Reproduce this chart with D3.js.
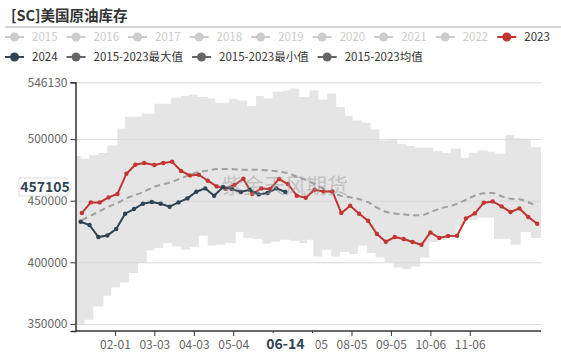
<!DOCTYPE html>
<html>
<head>
<meta charset="utf-8">
<script src="https://cdn.jsdelivr.net/npm/d3@7/dist/d3.min.js"></script>
<style>
  body { margin: 0; background: #fff; }
  svg text { font-family: "Microsoft YaHei", "Noto Sans CJK SC", sans-serif; }
</style>
</head>
<body>
<div id="chart"></div>
<script>
var width = 561, height = 352
var margin = {top: 82.3, right: 20, bottom: 21, left: 75.5}

// legend entries
var hiddenYears = ['2015', '2016', '2017', '2018', '2019', '2020', '2021', '2022']
var row2Names = ['2024', '2015-2023最大值', '2015-2023最小值', '2015-2023均值']

// x tick labels (MM-DD, category axis of one leap year)
var tickLabels = ['02-01', '03-03', '04-03', '05-04', '06-04', '07-05', '08-05', '09-05', '10-06', '11-06']
var yTicks = [350000, 400000, 450000, 500000, 546130]

// weekly stocks, thousand barrels
var start2023 = '2023-01-06'
var values2023 = [440010, 448620, 448620, 452680, 455440, 471920, 479230, 480610, 478990, 480610,
  481670, 474120, 470540, 471110, 466240, 461610, 459740, 462750, 467860, 455440,
  459990, 459500, 467620, 463560, 454060, 452440, 458930, 457550, 457550, 440010,
  445940, 439440, 433760, 422960, 416710, 420520, 418900, 416460, 414270, 424260,
  419710, 421340, 421580, 435630, 439690, 448380, 449430, 445370, 440820, 443750,
  436760, 431320]

var start2024 = '2024-01-05'
var values2024 = [432950, 430270, 420520, 421820, 427020, 439440, 443260, 447560, 448940, 447560,
  445130, 448620, 451870, 457310, 459990, 454060, 461120, 459500, 457060, 458930,
  455120, 456250, 459990, 457105]

var avgValues = [434170, 437820, 441470, 445130, 448210, 451950, 454630, 457470, 461370, 463400,
  465430, 468190, 471110, 473300, 474520, 475740, 475740, 475500, 475170, 475170,
  474930, 474520, 473710, 472330, 469490, 467050, 463400, 459740, 456500, 453940,
  452840, 451220, 448780, 444320, 441070, 439610, 439040, 438230, 438230, 440660,
  443500, 445290, 447400, 450810, 454060, 456010, 456250, 453650, 451620, 451220,
  448780, 445530]

// 2015-2023 max / min, step changes (day index in year, value)
var maxDays = [0, 4, 11, 18, 25, 33, 39, 52, 62, 75, 83, 89, 96, 104, 110, 121, 127, 135, 142, 148,
  155, 163, 169, 176, 184, 191, 198, 205, 212, 218, 225, 232, 239, 246, 253, 260, 267, 281, 288, 295,
  303, 309, 316, 324, 330, 338, 345, 351, 358]
var maxValues = [486300, 484100, 487110, 488730, 494900, 508710, 518210, 520640, 528760, 533640,
  535020, 536320, 534210, 533070, 529580, 532820, 531440, 526900, 535020, 533070,
  538510, 539560, 541190, 534210, 539560, 532260, 537130, 526090, 518780, 515200,
  513340, 507900, 498960, 500340, 496280, 494420, 493040, 490360, 488980, 492470,
  484920, 488980, 490840, 489790, 488160, 503350, 500590, 500340, 493600]

var minDays = [0, 7, 14, 22, 28, 35, 42, 49, 56, 62, 69, 76, 83, 90, 97, 104, 111, 118, 126, 132,
  140, 147, 154, 161, 169, 176, 182, 187, 194, 201, 208, 215, 222, 229, 236, 243, 250, 257, 264, 271,
  278, 285, 292, 299, 305, 316, 329, 342, 350, 358]
var minValues = [349310, 353370, 364170, 372860, 379600, 383660, 391290, 399410, 409640, 411590,
  415650, 412900, 410210, 412410, 421580, 413700, 414270, 415650, 424580, 419710,
  418900, 415080, 416950, 418330, 417520, 415650, 418330, 404770, 410210, 404770,
  408340, 406720, 413700, 407530, 403960, 400220, 395840, 394540, 396650, 403960,
  416460, 418330, 421010, 429130, 434570, 436200, 419140, 414270, 424580, 419710]

var pointerDate = '06-14'
var pointerValue = 457105

var parseDate = d3.timeParse('%Y-%m-%d')
var fmtMD = d3.timeFormat('%m-%d')
var yearStart = new Date(2024, 0, 1)

function dayIndex(md) {
  var p = md.split('-')
  return d3.timeDay.count(yearStart, new Date(2024, +p[0] - 1, +p[1]))
}

function weekly(start, vals) {
  var s = parseDate(start)
  return vals.map((v, i) => ({day: dayIndex(fmtMD(d3.timeDay.offset(s, i * 7))), v: v}))
}

function steps(days, vals) {
  var arr = days.map((d, i) => ({day: d, v: vals[i]}))
  arr.push({day: 366, v: vals[vals.length - 1]})
  return arr
}

var data2023 = weekly(start2023, values2023)
var data2024 = weekly(start2024, values2024)
var dataAvg = weekly(start2023, avgValues)
var dataMax = steps(maxDays, maxValues)
var dataMin = steps(minDays, minValues)

var svg = d3.select('#chart')
  .append('svg')
  .attr('width', width)
  .attr('height', height)

var xScale = d3.scaleLinear()
  .domain([0, 366])
  .range([margin.left, width - margin.right])

var yScale = d3.scaleLinear()
  .domain([344240, 546130])
  .range([height - margin.bottom, margin.top])

var yBottom = height - margin.bottom

// band: gray under max, white under min
var bandArea = d3.area()
  .curve(d3.curveStepAfter)
  .x(d => xScale(d.day))
  .y0(yBottom)
  .y1(d => yScale(d.v))

svg.append('path')
  .attr('d', bandArea(dataMax))
  .attr('fill', '#e5e5e5')

svg.append('path')
  .attr('d', bandArea(dataMin))
  .attr('fill', '#ffffff')

// Y grid
svg.append('g')
  .attr('class', 'grid')
  .attr('transform', `translate(${margin.left},0)`)
  .call(d3.axisLeft(yScale).tickValues(yTicks).tickSize(-(width - margin.right - margin.left)).tickFormat(''))
  .call(g => g.select('.domain').remove())
  .selectAll('line')
  .attr('stroke', '#d8d8d8')

// Y axis
svg.append('g')
  .attr('class', 'y-axis')
  .attr('transform', `translate(${margin.left},0)`)
  .call(d3.axisLeft(yScale).tickValues(yTicks).tickSize(5).tickPadding(3).tickFormat(d => d))
  .call(g => g.select('.domain').attr('stroke', '#333').attr('stroke-width', 1.5))
  .call(g => g.selectAll('.tick line').attr('stroke', '#333'))
  .selectAll('text')
  .style('font-size', '12px')
  .attr('fill', '#666')

// X axis (the label under the pointer is hidden, as in the chart)
var xAxis = d3.axisBottom(xScale)
  .tickValues(tickLabels.map(dayIndex))
  .tickSize(5)
  .tickPadding(4)
  .tickFormat((d, i) => tickLabels[i])

svg.append('g')
  .attr('class', 'x-axis')
  .attr('transform', `translate(0,${yBottom})`)
  .call(xAxis)
  .call(g => g.select('.domain').attr('d', `M${margin.left},0H${width - margin.right}`).attr('stroke', '#333').attr('stroke-width', 1.5))
  .call(g => g.selectAll('.tick line').attr('stroke', '#333'))
  .call(g => g.selectAll('.tick text').filter((d, i) => tickLabels[i] === '06-04').remove())
  .selectAll('text')
  .style('font-size', '12px')
  .attr('fill', '#666')

// lines
var line = d3.line()
  .x(d => xScale(d.day))
  .y(d => yScale(d.v))

svg.append('path')
  .attr('class', 'line avg')
  .attr('d', line.curve(d3.curveMonotoneX)(dataAvg))
  .attr('fill', 'none')
  .attr('stroke', '#a0a0a0')
  .attr('stroke-width', 2)
  .attr('stroke-dasharray', '6,4')

line.curve(d3.curveLinear)

var series = [
  {data: data2023, color: '#c23531'},
  {data: data2024, color: '#2f4554'}
]

series.forEach(s => {
  svg.append('path')
    .attr('d', line(s.data))
    .attr('fill', 'none')
    .attr('stroke', s.color)
    .attr('stroke-width', 2)
  svg.append('g')
    .selectAll('circle')
    .data(s.data)
    .enter()
    .append('circle')
    .attr('cx', d => xScale(d.day))
    .attr('cy', d => yScale(d.v))
    .attr('r', 2.2)
    .attr('fill', s.color)
})

// watermark
svg.append('text')
  .attr('x', 222)
  .attr('y', 193)
  .text('紫金天风期货')
  .style('font-size', '21px')
  .attr('fill', '#999')
  .attr('opacity', 0.45)

// axis pointer labels
var px = xScale(dayIndex(pointerDate))
svg.append('rect')
  .attr('x', px - 30)
  .attr('y', yBottom + 2)
  .attr('width', 60)
  .attr('height', 19)
  .attr('fill', '#fff')
svg.append('text')
  .attr('x', px)
  .attr('y', yBottom + 18)
  .attr('text-anchor', 'middle')
  .text(pointerDate)
  .style('font-size', '14px')
  .style('font-weight', 'bold')
  .attr('fill', '#2f4554')

var py = yScale(pointerValue) - 5
svg.append('path')
  .attr('d', `M19,${py - 9}H66L72,${py}L66,${py + 9}H19Z`)
  .attr('fill', '#fff')
  .attr('stroke', '#ddd')
svg.append('text')
  .attr('x', 45)
  .attr('y', py + 5)
  .attr('text-anchor', 'middle')
  .text(pointerValue)
  .style('font-size', '14px')
  .style('font-weight', 'bold')
  .attr('fill', '#2f4554')

// title
svg.append('text')
  .attr('x', 11)
  .attr('y', 21)
  .text('[SC]美国原油库存')
  .style('font-size', '14.5px')
  .style('font-weight', 'bold')
  .attr('fill', '#333')

svg.append('line')
  .attr('x1', 5)
  .attr('x2', width)
  .attr('y1', 27)
  .attr('y2', 27)
  .attr('stroke', '#aaa')

// legend
function legendRow(items, yPos, gap) {
  var xPos = 5
  items.forEach(it => {
    var g = svg.append('g')
    g.append('line')
      .attr('x1', xPos).attr('x2', xPos + 19)
      .attr('y1', yPos).attr('y2', yPos)
      .attr('stroke', it.color)
      .attr('stroke-width', 2)
    g.append('circle')
      .attr('cx', xPos + 9.5)
      .attr('cy', yPos)
      .attr('r', 4.5)
      .attr('fill', it.color)
    var t = g.append('text')
      .attr('x', xPos + 27)
      .attr('y', yPos + 4)
      .text(it.name)
      .style('font-size', '11.5px')
      .attr('fill', it.text)
    xPos += 27 + t.node().getComputedTextLength() + gap
  })
}

var row1 = hiddenYears.map(n => ({name: n, color: '#ccc', text: '#ccc'}))
row1.push({name: '2023', color: '#c23531', text: '#333'})
legendRow(row1, 37, 9)

var row2Colors = ['#2f4554', '#666', '#666', '#666']
legendRow(row2Names.map((n, i) => ({name: n, color: row2Colors[i], text: '#333'})), 57, 9)
</script>
</body>
</html>
